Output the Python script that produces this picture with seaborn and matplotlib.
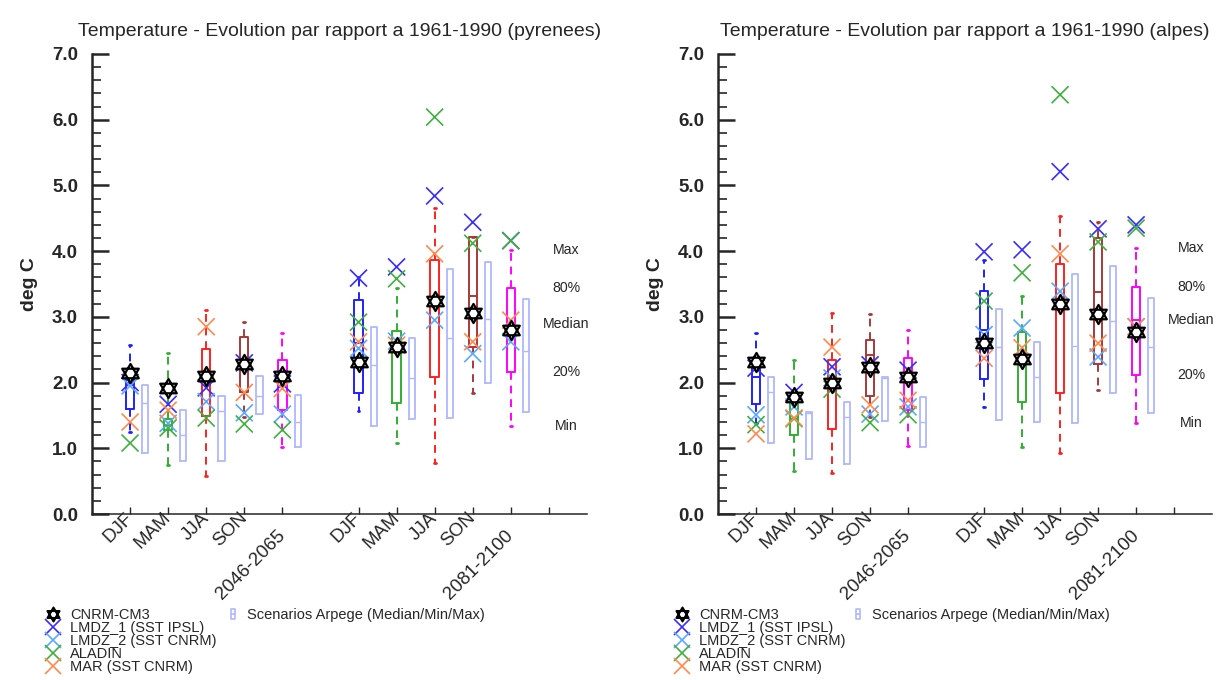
import matplotlib
matplotlib.use("Agg")
import matplotlib.pyplot as plt
from matplotlib.path import Path
from matplotlib.lines import Line2D
from matplotlib.ticker import MultipleLocator, FormatStrFormatter
import numpy as np
import pandas as pd
import seaborn as sns

# categories
tick_labels = ["DJF", "MAM", "JJA", "SON", "2046-2065", "DJF", "MAM", "JJA", "SON", "2081-2100"]
positions = [1, 2, 3, 4, 5, 7, 8, 9, 10, 11]
period_idx = [4, 9]
box_colors = ["#2020ff", "#30b030", "#ff2020", "#a83838", "#ff00ff",
              "#2020ff", "#30b030", "#ff2020", "#a83838", "#ff00ff"]
stat_names = ["Max", "80%", "Median", "20%", "Min"]

# pyrenees
pyr_min = [1.25, 0.75, 0.58, 1.48, 1.02, 1.57, 1.08, 0.78, 1.84, 1.34]
pyr_q20 = [1.60, 1.28, 1.49, 1.85, 1.58, 1.84, 1.69, 2.09, 2.54, 2.16]
pyr_med = [2.00, 1.35, 2.05, 2.28, 2.05, 2.60, 2.55, 3.20, 3.32, 2.89]
pyr_q80 = [2.12, 1.45, 2.51, 2.69, 2.34, 3.26, 2.79, 3.87, 4.22, 3.44]
pyr_max = [2.57, 2.45, 3.10, 2.92, 2.75, 3.60, 3.44, 4.66, 4.22, 4.02]
pyr_arp_min = [0.93, 0.81, 0.81, 1.52, 1.02, 1.34, 1.44, 1.46, 1.99, 1.55]
pyr_arp_med = [1.69, 1.20, 1.57, 1.80, 1.40, 2.27, 2.07, 2.68, 2.97, 2.48]
pyr_arp_max = [1.96, 1.58, 1.79, 2.10, 1.81, 2.84, 2.68, 3.73, 3.83, 3.27]
pyr_cnrm = [2.15, 1.92, 2.10, 2.28, 2.10, 2.31, 2.54, 3.24, 3.06, 2.80]
pyr_lmdz1 = [2.00, 1.67, 1.92, 2.30, 1.98, 3.59, 3.76, 4.84, 4.44, 4.16]
pyr_lmdz2 = [1.95, 1.38, 1.71, 1.54, 1.52, 2.52, 2.63, 2.95, 2.44, 2.62]
pyr_aladin = [1.08, 1.31, 1.46, 1.37, 1.28, 2.92, 3.58, 6.04, 4.12, 4.16]
pyr_mar = [1.40, 1.58, 2.85, 1.85, 1.91, 2.62, 2.57, 3.96, 2.62, 2.95]

# alpes
alp_min = [1.38, 0.65, 0.62, 1.48, 1.04, 1.63, 1.02, 0.93, 1.89, 1.38]
alp_q20 = [1.67, 1.20, 1.29, 1.80, 1.58, 2.06, 1.70, 1.84, 2.28, 2.12]
alp_med = [2.09, 1.45, 1.99, 2.42, 2.09, 2.80, 2.36, 3.20, 3.38, 2.95]
alp_q80 = [2.31, 1.78, 2.34, 2.65, 2.37, 3.39, 2.77, 3.81, 4.20, 3.46]
alp_max = [2.76, 2.34, 3.06, 3.04, 2.80, 3.87, 3.32, 4.54, 4.44, 4.05]
alp_arp_min = [1.08, 0.83, 0.76, 1.42, 1.02, 1.43, 1.40, 1.38, 1.84, 1.54]
alp_arp_med = [1.86, 1.53, 1.47, 2.07, 1.40, 2.54, 2.09, 2.56, 2.94, 2.54]
alp_arp_max = [2.09, 1.55, 1.71, 2.09, 1.78, 3.12, 2.62, 3.65, 3.78, 3.29]
alp_cnrm = [2.31, 1.78, 1.99, 2.24, 2.09, 2.60, 2.36, 3.20, 3.04, 2.77]
alp_lmdz1 = [2.22, 1.85, 2.24, 2.27, 2.19, 3.99, 4.02, 5.21, 4.34, 4.40]
alp_lmdz2 = [1.51, 1.63, 2.07, 1.52, 1.63, 2.73, 2.83, 3.39, 2.39, 2.85]
alp_aladin = [1.36, 1.45, 1.90, 1.39, 1.51, 3.24, 3.67, 6.38, 4.14, 4.35]
alp_mar = [1.22, 1.46, 2.54, 1.66, 1.73, 2.37, 2.53, 3.96, 2.60, 2.85]

model_colors = {
    "LMDZ_1 (SST IPSL)": "#3a2cff",
    "LMDZ_2 (SST CNRM)": "#5aa8ff",
    "ALADIN": "#40b040",
    "MAR (SST CNRM)": "#ff8a50",
}
arp_color = "#b0b8ff"

sns.set_style("ticks")
plt.rcParams["font.family"] = ["Liberation Sans", "DejaVu Sans"]

# hexagram (two triangles) for CNRM-CM3
ang_up = np.deg2rad([90, 210, 330])
ang_dn = np.deg2rad([270, 30, 150])
verts = [(np.cos(a), np.sin(a)) for a in ang_up] + [(0, 0)] + \
        [(np.cos(a), np.sin(a)) for a in ang_dn] + [(0, 0)]
codes = [Path.MOVETO, Path.LINETO, Path.LINETO, Path.CLOSEPOLY] * 2
star = Path(verts, codes)

# box marker for the Arpege legend entry
arp_marker = Path([(-0.5, -1), (0.5, -1), (0.5, 1), (-0.5, 1), (-0.5, -1), (-0.5, 0), (0.5, 0)],
                  [Path.MOVETO, Path.LINETO, Path.LINETO, Path.LINETO, Path.CLOSEPOLY,
                   Path.MOVETO, Path.LINETO])


def panel(ax, title, bmin, bq20, bmed, bq80, bmax, amin, amed, amax, cnrm, models):
    # Arpege scenarios
    arp_stats = [dict(whislo=lo, q1=lo, med=md, q3=hi, whishi=hi, fliers=[])
                 for lo, md, hi in zip(amin, amed, amax)]
    ax.bxp(arp_stats, positions=[p + 0.4 for p in positions], widths=0.16,
           showfliers=False, manage_ticks=False, capwidths=0.0,
           boxprops=dict(color=arp_color, lw=1.3), medianprops=dict(color=arp_color, lw=1.0),
           whiskerprops=dict(lw=0), capprops=dict(lw=0), zorder=2)

    for i, p in enumerate(positions):
        c = box_colors[i]
        st = [dict(whislo=bmin[i], q1=bq20[i], med=bmed[i], q3=bq80[i], whishi=bmax[i], fliers=[])]
        ax.bxp(st, positions=[p], widths=0.22, showfliers=False, manage_ticks=False,
               capwidths=0.05,
               boxprops=dict(color=c, lw=1.4), medianprops=dict(color=c, lw=1.4),
               whiskerprops=dict(color=c, lw=1.4, ls=(0, (4, 3))),
               capprops=dict(color=c, lw=2.0), zorder=3)

    rows = []
    for name, vals in models.items():
        for p, v in zip(positions, vals):
            rows.append({"pos": p, "value": v, "model": name})
    df = pd.DataFrame(rows)
    sns.scatterplot(data=df, x="pos", y="value", hue="model", palette=model_colors,
                    marker="x", s=150, linewidth=1.2, legend=False, ax=ax, zorder=4)
    sns.scatterplot(x=positions, y=cnrm, marker=star, s=190, color="white",
                    edgecolor="black", linewidth=1.6, legend=False, ax=ax, zorder=5)

    # explanation of the box statistics, next to the last box
    last = [bmax[-1], bq80[-1], bmed[-1], bq20[-1], bmin[-1]]
    for name, v in zip(stat_names, last):
        ax.text(positions[-1] + 1.45, v, name, ha="center", va="center", fontsize=10.2)

    ax.set_xlim(0, 13)
    ax.set_ylim(0, 7)
    ax.xaxis.remove_overlapping_locs = False
    major = [p for p in positions] + [12]
    labels = ["" if i in period_idx else lab for i, lab in enumerate(tick_labels)] + [""]
    ax.set_xticks(major, labels=labels)
    ax.set_xticks([positions[i] for i in period_idx],
                  labels=[tick_labels[i] for i in period_idx], minor=True)
    for lab in ax.get_xticklabels(which="both"):
        lab.set_rotation(45)
        lab.set_ha("right")
        lab.set_va("center")
        lab.set_rotation_mode("anchor")
        lab.set_fontsize(13.5)
    ax.tick_params(axis="x", which="major", direction="in", length=5, width=1, pad=1)
    ax.tick_params(axis="x", which="minor", length=0, pad=14)

    ax.yaxis.set_major_locator(MultipleLocator(1.0))
    ax.yaxis.set_minor_locator(MultipleLocator(0.2))
    ax.yaxis.set_major_formatter(FormatStrFormatter("%.1f"))
    ax.tick_params(axis="y", which="major", direction="in", length=12, width=1.8,
                   pad=10, labelsize=13.5)
    ax.tick_params(axis="y", which="minor", direction="in", length=6.5, width=1.2)
    for lab in ax.get_yticklabels():
        lab.set_fontweight("bold")

    sns.despine(ax=ax)
    ax.spines["left"].set_linewidth(1.8)
    ax.spines["bottom"].set_linewidth(1.1)
    ax.set_ylabel("deg C", fontsize=14, fontweight="bold", labelpad=10)
    ax.set_xlabel("")
    ax.set_title(title, fontsize=14, pad=13)


fig = plt.figure(figsize=(12.17, 6.8), dpi=100)
ax1 = fig.add_axes([0.0756, 0.2441, 0.4067, 0.6765])
ax2 = fig.add_axes([0.590, 0.2441, 0.406, 0.6765])

panel(ax1, "Temperature - Evolution par rapport a 1961-1990 (pyrenees)",
      pyr_min, pyr_q20, pyr_med, pyr_q80, pyr_max,
      pyr_arp_min, pyr_arp_med, pyr_arp_max, pyr_cnrm,
      {"LMDZ_1 (SST IPSL)": pyr_lmdz1, "LMDZ_2 (SST CNRM)": pyr_lmdz2,
       "ALADIN": pyr_aladin, "MAR (SST CNRM)": pyr_mar})
panel(ax2, "Temperature - Evolution par rapport a 1961-1990 (alpes)",
      alp_min, alp_q20, alp_med, alp_q80, alp_max,
      alp_arp_min, alp_arp_med, alp_arp_max, alp_cnrm,
      {"LMDZ_1 (SST IPSL)": alp_lmdz1, "LMDZ_2 (SST CNRM)": alp_lmdz2,
       "ALADIN": alp_aladin, "MAR (SST CNRM)": alp_mar})

handles = [Line2D([], [], ls="none", marker=star, ms=10, mfc="white", mec="black", mew=1.5)]
handles += [Line2D([], [], ls="none", marker="x", ms=12, mew=1.2, color=c)
            for c in model_colors.values()]
names = ["CNRM-CM3"] + list(model_colors.keys())
arp_handle = [Line2D([], [], ls="none", marker=arp_marker, ms=7, mfc="none",
                     mec=arp_color, mew=1.2)]
leg_kw = dict(frameon=False, fontsize=10.5, borderpad=0, borderaxespad=0,
              labelspacing=-0.06, loc="upper left")

for ax, x_mod, x_arp in [(ax1, 0.0378, 0.1866), (ax2, 0.5545, 0.700)]:
    leg = ax.legend(handles, names, bbox_to_anchor=(x_mod, 0.106),
                    bbox_transform=fig.transFigure, handlelength=1.0,
                    handletextpad=0.65, **leg_kw)
    ax.add_artist(leg)
    ax.legend(arp_handle, ["Scenarios Arpege (Median/Min/Max)"], bbox_to_anchor=(x_arp, 0.106),
              bbox_transform=fig.transFigure, handlelength=0.8,
              handletextpad=0.55, **leg_kw)

fig.savefig("out.png", dpi=100)
